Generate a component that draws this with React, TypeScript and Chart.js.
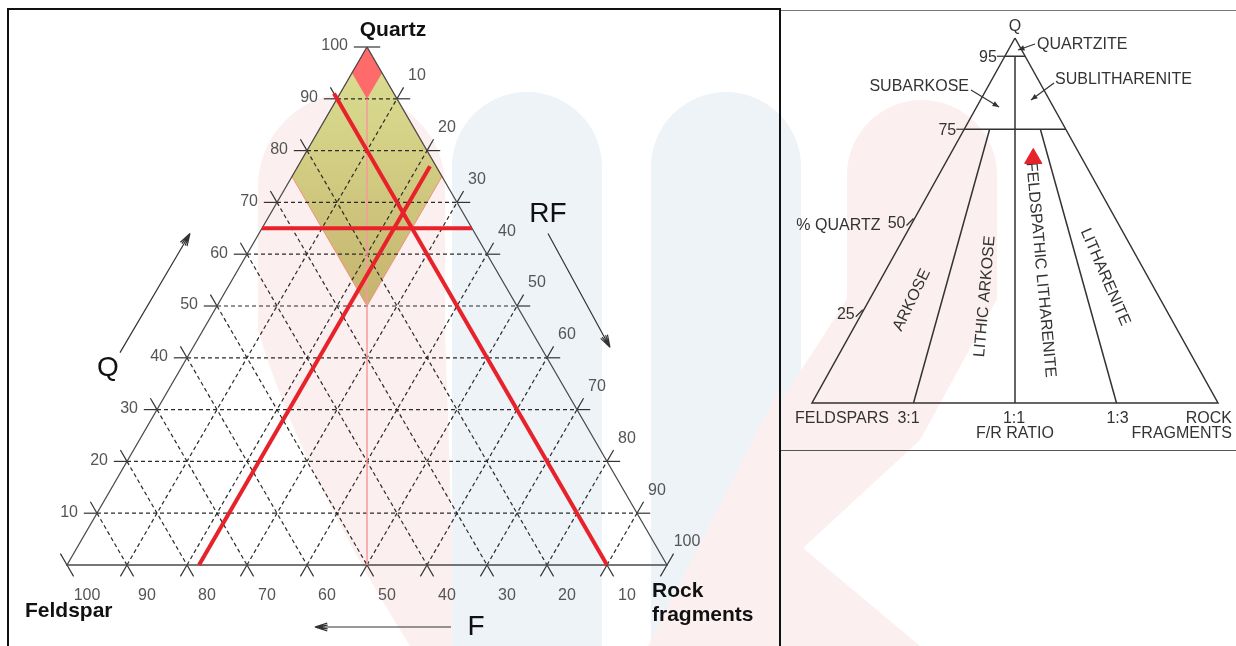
import React, { useEffect, useRef } from 'react';
import { Chart, registerables } from 'chart.js';

Chart.register(...registerables);

const W = 1236;
const H = 646;
const SANS = '"Liberation Sans", Arial, Helvetica, sans-serif';

// ---------------- Left diagram: Quartz / Feldspar / Rock fragments (percent) ----------------
const GRID_LEVELS = [10, 20, 30, 40, 50, 60, 70, 80, 90];
const TICK_LEVELS = [10, 20, 30, 40, 50, 60, 70, 80, 90, 100];
const Q_TICK_LABELS = ['10', '20', '30', '40', '50', '60', '70', '80', '90', '100'];
const RF_TICK_LABELS = ['10', '20', '30', '40', '50', '60', '70', '80', '90', '100'];
const F_TICK_LABELS = ['10', '20', '30', '40', '50', '60', '70', '80', '90', '100'];

// shaded zones (Q, F pairs; RF = 100 - Q - F)
const ZONE_OLIVE_Q = [100, 75, 50, 75, 100];
const ZONE_OLIVE_F = [0, 25, 25, 0, 0];
const ZONE_RED_Q = [100, 95, 90, 95, 100];
const ZONE_RED_F = [0, 5, 5, 0, 0];

// red construction lines through the sample
const RED_Q_LINE_Q = [65, 65];
const RED_Q_LINE_F = [35, 0];
const RED_F_LINE_Q = [91, 0];
const RED_F_LINE_F = [10, 10];
const RED_RF_LINE_Q = [0, 77];
const RED_RF_LINE_F = [78, 1];
// F = RF (1:1) guide line
const RATIO_LINE_Q = [90, 0];
const RATIO_LINE_F = [5, 50];

// ---------------- Right diagram: Folk classification ----------------
const FOLK_OUTLINE_Q = [100, 0, 0, 100];
const FOLK_OUTLINE_F = [0, 100, 0, 0];
const FOLK_Q_LIMITS = [95, 75];
const FOLK_RATIOS = [0.75, 0.5, 0.25]; // F / (F + R)
const FOLK_RATIO_TOP_Q = [75, 95, 75];
const FOLK_RATIO_LABELS = ['3:1', '1:1', '1:3'];
const FOLK_Q_TICKS = [95, 75, 50, 25];
const FOLK_Q_TICK_LABELS = ['95', '75', '50', '25'];
const SAMPLE_Q = [67];
const SAMPLE_F = [12];

function tern(q: number, f: number) {
  const r = 100 - q - f;
  return { x: r + q / 2, y: q };
}

function pts(qs: number[], fs: number[]) {
  return qs.map((q, i) => tern(q, fs[i]));
}

function lineDs(data: any[], color: string, width: number, dash: number[], order: number, extra: any = {}) {
  return {
    type: 'line',
    data,
    borderColor: color,
    borderWidth: width,
    borderDash: dash,
    pointRadius: 0,
    pointHoverRadius: 0,
    fill: false,
    tension: 0,
    clip: false,
    order,
    ...extra,
  };
}

function text(c: CanvasRenderingContext2D, s: string, x: number, y: number, align: CanvasTextAlign, font: string, color: string, rot = 0) {
  c.save();
  c.font = font;
  c.fillStyle = color;
  c.textAlign = align;
  c.textBaseline = 'middle';
  c.translate(x, y);
  if (rot) c.rotate((rot * Math.PI) / 180);
  c.fillText(s, 0, 0);
  c.restore();
}

function openArrow(c: CanvasRenderingContext2D, x0: number, y0: number, x1: number, y1: number, color: string) {
  const a = Math.atan2(y1 - y0, x1 - x0);
  c.save();
  c.strokeStyle = color;
  c.lineWidth = 1.2;
  c.beginPath();
  c.moveTo(x0, y0);
  c.lineTo(x1, y1);
  const L = 13;
  for (const s of [0.3, -0.3, 0.15, -0.15]) {
    c.moveTo(x1, y1);
    c.lineTo(x1 - L * Math.cos(a + s), y1 - L * Math.sin(a + s));
  }
  c.stroke();
  c.restore();
}

function solidArrow(c: CanvasRenderingContext2D, x0: number, y0: number, x1: number, y1: number, color: string) {
  const a = Math.atan2(y1 - y0, x1 - x0);
  c.save();
  c.strokeStyle = color;
  c.fillStyle = color;
  c.lineWidth = 1.2;
  c.beginPath();
  c.moveTo(x0, y0);
  c.lineTo(x1, y1);
  c.stroke();
  const L = 7;
  c.beginPath();
  c.moveTo(x1, y1);
  c.lineTo(x1 - L * Math.cos(a + 0.4), y1 - L * Math.sin(a + 0.4));
  c.lineTo(x1 - L * Math.cos(a - 0.4), y1 - L * Math.sin(a - 0.4));
  c.closePath();
  c.fill();
  c.restore();
}

function arch(c: CanvasRenderingContext2D, x0: number, x1: number, top: number, bottom: number) {
  const r = (x1 - x0) / 2;
  c.beginPath();
  c.moveTo(x0, bottom);
  c.lineTo(x0, top + r);
  c.arc(x0 + r, top + r, r, Math.PI, 0);
  c.lineTo(x1, bottom);
  c.closePath();
  c.fill();
}

const leftDecor = {
  id: 'leftDecor',
  beforeDraw(chart: any) {
    const c = chart.ctx as CanvasRenderingContext2D;
    c.save();
    c.fillStyle = '#ffffff';
    c.fillRect(0, 0, chart.width, chart.height);
    // faint watermark
    c.fillStyle = '#eef3f8';
    arch(c, 452, 602, 92, H);
    arch(c, 651, 801, 92, H);
    c.fillStyle = '#fcefef';
    arch(c, 258, 445, 93, 331);
    c.beginPath();
    c.moveTo(258, 330);
    c.lineTo(445, 330);
    c.lineTo(452, 540);
    c.lineTo(452, H);
    c.lineTo(410, H);
    c.quadraticCurveTo(300, 470, 258, 330);
    c.closePath();
    c.fill();
    c.beginPath();
    c.moveTo(781, 385);
    c.lineTo(781, H);
    c.lineTo(648, H);
    c.closePath();
    c.fill();
    arch(c, 847, 997, 100, 300);
    c.beginPath();
    c.moveTo(847, 299);
    c.lineTo(997, 299);
    c.lineTo(920, 440);
    c.lineTo(803, 548);
    c.lineTo(920, H);
    c.lineTo(782, H);
    c.lineTo(782, 400);
    c.closePath();
    c.fill();
    c.restore();
  },
  afterDatasetsDraw(chart: any) {
    const c = chart.ctx as CanvasRenderingContext2D;
    const xs = chart.scales.x;
    const ys = chart.scales.y;
    const P = (q: number, f: number) => {
      const t = tern(q, f);
      return [xs.getPixelForValue(t.x), ys.getPixelForValue(t.y)];
    };
    const tickFont = `16px ${SANS}`;
    const tickColor = '#555';
    TICK_LEVELS.forEach((k, i) => {
      const [lx, ly] = P(k, 100 - k);
      text(c, Q_TICK_LABELS[i], lx - 19, ly - 1, 'right', tickFont, tickColor);
      const [rx, ry] = P(100 - k, 0);
      text(c, RF_TICK_LABELS[i], rx + 20, ry - 23, 'center', tickFont, tickColor);
      const [bx, by] = P(0, k);
      text(c, F_TICK_LABELS[i], bx + 20, by + 31, 'center', tickFont, tickColor);
    });
    const [ax, ay] = P(100, 0);
    const [lvx, lvy] = P(0, 100);
    const [rvx, rvy] = P(0, 0);
    const bold = `bold 21px ${SANS}`;
    text(c, 'Quartz', ax + 26, ay - 17, 'center', bold, '#111');
    text(c, 'Feldspar', lvx - 42, lvy + 46, 'left', bold, '#111');
    text(c, 'Rock', rvx - 15, rvy + 26, 'left', bold, '#111');
    text(c, 'fragments', rvx - 15, rvy + 50, 'left', bold, '#111');
    const big = `28px ${SANS}`;
    text(c, 'Q', lvx + 41, lvy - 197, 'center', big, '#111');
    text(c, 'RF', ax + 181, ay + 167, 'center', big, '#111');
    text(c, 'F', rvx - 191, rvy + 62, 'center', big, '#111');
    // direction arrows
    const [q0x, q0y] = P(41, 59);
    const [q1x, q1y] = P(64, 36);
    openArrow(c, q0x - 70, q0y, q1x - 69, q1y, '#333');
    const [r0x, r0y] = P(64, 0);
    const [r1x, r1y] = P(42, 0);
    openArrow(c, r0x + 73, r0y, r1x + 69, r1y, '#333');
    const [f0x] = P(0, 36);
    const [f1x] = P(0, 58.7);
    openArrow(c, f0x, rvy + 62, f1x, rvy + 62, '#333');
    // panel frames
    c.save();
    c.strokeStyle = '#111';
    c.lineWidth = 2;
    c.beginPath();
    c.moveTo(8, H + 2);
    c.lineTo(8, 9);
    c.lineTo(780, 9);
    c.lineTo(780, H + 2);
    c.stroke();
    c.strokeStyle = '#777';
    c.lineWidth = 1;
    c.beginPath();
    c.moveTo(781, 10.5);
    c.lineTo(W, 10.5);
    c.stroke();
    c.strokeStyle = '#555';
    c.beginPath();
    c.moveTo(781, 450.5);
    c.lineTo(W, 450.5);
    c.stroke();
    c.restore();
  },
};

const rightDecor = {
  id: 'rightDecor',
  beforeDatasetsDraw(chart: any) {
    const c = chart.ctx as CanvasRenderingContext2D;
    const xs = chart.scales.x;
    const ys = chart.scales.y;
    const P = (q: number, f: number) => {
      const t = tern(q, f);
      return [xs.getPixelForValue(t.x), ys.getPixelForValue(t.y)];
    };
    const XY = (x: number, y: number) => [xs.getPixelForValue(x), ys.getPixelForValue(y)];
    const font = `16px ${SANS}`;
    const col = '#333';
    const [ax, ay] = P(100, 0);
    text(c, 'Q', ax, ay - 11, 'center', font, col);
    text(c, 'QUARTZITE', ax + 22, ay + 7, 'left', font, col);
    solidArrow(c, ax + 20, ay + 6, ax + 3, ay + 12, col);
    c.save();
    c.strokeStyle = col;
    c.lineWidth = 1.2;
    FOLK_Q_TICKS.forEach((q, i) => {
      const [ex, ey] = P(q, 100 - q);
      const slant = q < 75;
      text(c, FOLK_Q_TICK_LABELS[i], ex - 8, ey + (slant ? 3 : 1), 'right', font, col);
      c.beginPath();
      if (slant) {
        c.moveTo(ex - 7, ey + 5);
        c.lineTo(ex, ey - 2);
      } else {
        c.moveTo(ex - 8, ey);
        c.lineTo(ex, ey);
      }
      c.stroke();
    });
    c.restore();
    const [q50x, q50y] = P(50, 50);
    text(c, '% QUARTZ', q50x - 33, q50y + 5, 'right', font, col);
    text(c, 'SUBARKOSE', ax - 46, 87, 'right', font, col);
    solidArrow(c, ax - 44, 90, ax - 16, 107, col);
    text(c, 'SUBLITHARENITE', ax + 40, 80, 'left', font, col);
    solidArrow(c, ax + 39, 83, ax + 16, 100, col);
    // field names
    let p = XY(24.6, 28.2);
    text(c, 'ARKOSE', p[0], p[1], 'center', font, col, -64);
    p = XY(42.6, 29.2);
    text(c, 'LITHIC ARKOSE', p[0], p[1], 'center', font, col, -85);
    p = XY(56.3, 36.5);
    text(c, 'FELDSPATHIC LITHARENITE', p[0], p[1], 'center', font, col, 84.8);
    p = XY(72.2, 34.5);
    text(c, 'LITHARENITE', p[0], p[1], 'center', font, col, 66.7);
    // base labels
    const [lvx, lvy] = P(0, 100);
    const [rvx, rvy] = P(0, 0);
    text(c, 'FELDSPARS', lvx - 17, lvy + 16, 'left', font, col);
    FOLK_RATIOS.forEach((r, i) => {
      const [bx, by] = P(0, 100 * r);
      text(c, FOLK_RATIO_LABELS[i], bx - (r === 0.5 ? 1 : r > 0.5 ? 5 : -1), by + 16, 'center', font, col);
    });
    const [mx, my] = P(0, 50);
    text(c, 'F/R RATIO', mx, my + 31, 'center', font, col);
    text(c, 'ROCK', rvx + 14, rvy + 16, 'right', font, col);
    text(c, 'FRAGMENTS', rvx + 14, rvy + 31, 'right', font, col);
  },
};

export default function App() {
  const leftRef = useRef<HTMLCanvasElement>(null);
  const rightRef = useRef<HTMLCanvasElement>(null);

  useEffect(() => {
    if (!leftRef.current || !rightRef.current) return;

    // ----- left chart datasets -----
    const ds: any[] = [];
    const red = '#e8222a';
    ds.push(lineDs(pts(RED_Q_LINE_Q, RED_Q_LINE_F), red, 4, [], 0));
    ds.push(lineDs(pts(RED_F_LINE_Q, RED_F_LINE_F), red, 4, [], 0));
    ds.push(lineDs(pts(RED_RF_LINE_Q, RED_RF_LINE_F), red, 4, [], 0));
    ds.push(lineDs(pts(RATIO_LINE_Q, RATIO_LINE_F), '#f59a9a', 1.5, [], 1));
    // outline
    ds.push(lineDs(pts([100, 0, 0, 100], [0, 100, 0, 0]), '#4a4a4a', 1.3, [], 2));
    // dashed grid + solid tick extensions
    const gridCol = '#2b2b2b';
    GRID_LEVELS.forEach((k) => {
      ds.push(lineDs(pts([k, k], [100 - k, 0]), gridCol, 1.2, [4, 3], 3));
      ds.push(lineDs(pts([100 - k, 0], [k, k]), gridCol, 1.2, [4, 3], 3));
      ds.push(lineDs(pts([0, 100 - k], [100 - k, 0]), gridCol, 1.2, [4, 3], 3));
    });
    TICK_LEVELS.forEach((k) => {
      const ext = 2.2;
      ds.push(lineDs([tern(k, 100 - k + ext), tern(k, 100 - k)], '#333', 1.2, [], 2));
      ds.push(lineDs([tern(k, 0), tern(k, -ext)], '#333', 1.2, [], 2));
      ds.push(lineDs([tern(100 - k + ext, k), tern(100 - k, k)], '#333', 1.2, [], 2));
      ds.push(lineDs([tern(0, k), tern(-ext, k)], '#333', 1.2, [], 2));
      ds.push(lineDs([tern(0, 100 - k), tern(-ext, 100 - k + ext)], '#333', 1.2, [], 2));
      ds.push(lineDs([tern(100 - k, 0), tern(100 - k + ext, -ext)], '#333', 1.2, [], 2));
    });
    ds.push(
      lineDs(pts(ZONE_RED_Q, ZONE_RED_F), 'rgba(0,0,0,0)', 0, [], 5, {
        fill: 'shape',
        backgroundColor: '#ff6a6a',
      })
    );
    ds.push(
      lineDs(pts(ZONE_OLIVE_Q, ZONE_OLIVE_F), '#f2917a', 1, [], 6, {
        fill: 'shape',
        backgroundColor: (ctx: any) => {
          const chart = ctx.chart;
          const ys = chart.scales && chart.scales.y;
          if (!chart.chartArea || !ys) return '#cfc67c';
          const y0 = ys.getPixelForValue(100);
          const y1 = ys.getPixelForValue(50);
          if (!isFinite(y0) || !isFinite(y1) || y0 === y1) return '#cfc67c';
          const g = chart.ctx.createLinearGradient(0, y0, 0, y1);
          g.addColorStop(0, '#dcdf93');
          g.addColorStop(0.3, '#d5d489');
          g.addColorStop(1, '#c6b36d');
          return g;
        },
      })
    );

    const left = new Chart(leftRef.current, {
      type: 'line',
      data: { datasets: ds },
      options: {
        animation: false,
        responsive: false,
        maintainAspectRatio: false,
        events: [],
        layout: { padding: { left: 67, right: W - 667, top: 47, bottom: H - 565 } },
        scales: {
          x: { type: 'linear', min: 0, max: 100, display: false },
          y: { type: 'linear', min: 0, max: 100, display: false },
        },
        plugins: { legend: { display: false }, tooltip: { enabled: false } },
      } as any,
      plugins: [leftDecor],
    } as any);
    left.update();

    // ----- right chart datasets -----
    const rds: any[] = [];
    rds.push({
      type: 'line',
      data: pts(SAMPLE_Q, SAMPLE_F),
      showLine: false,
      pointStyle: 'triangle',
      pointRadius: 10,
      pointHoverRadius: 10,
      backgroundColor: '#e5232b',
      borderColor: '#e5232b',
      borderWidth: 1,
      clip: false,
      order: 0,
    });
    const dark = '#333';
    rds.push(lineDs(pts(FOLK_OUTLINE_Q, FOLK_OUTLINE_F), dark, 1.5, [], 1));
    FOLK_Q_LIMITS.forEach((q) => {
      rds.push(lineDs(pts([q, q], [100 - q, 0]), dark, 1.5, [], 1));
    });
    FOLK_RATIOS.forEach((r, i) => {
      const qt = FOLK_RATIO_TOP_Q[i];
      rds.push(lineDs(pts([qt, 0], [(100 - qt) * r, 100 * r]), dark, 1.5, [], 1));
    });

    const right = new Chart(rightRef.current, {
      type: 'line',
      data: { datasets: rds },
      options: {
        animation: false,
        responsive: false,
        maintainAspectRatio: false,
        events: [],
        layout: { padding: { left: 812, right: W - 1218, top: 38, bottom: H - 403 } },
        scales: {
          x: { type: 'linear', min: 0, max: 100, display: false },
          y: { type: 'linear', min: 0, max: 100, display: false },
        },
        plugins: { legend: { display: false }, tooltip: { enabled: false } },
      } as any,
      plugins: [rightDecor],
    } as any);

    return () => {
      left.destroy();
      right.destroy();
    };
  }, []);

  return (
    <div style={{ position: 'absolute', left: 0, top: 0, width: W, height: H, background: '#fff', overflow: 'hidden' }}>
      <canvas ref={leftRef} width={W} height={H} style={{ position: 'absolute', left: 0, top: 0, width: W, height: H }} />
      <canvas ref={rightRef} width={W} height={H} style={{ position: 'absolute', left: 0, top: 0, width: W, height: H }} />
    </div>
  );
}
